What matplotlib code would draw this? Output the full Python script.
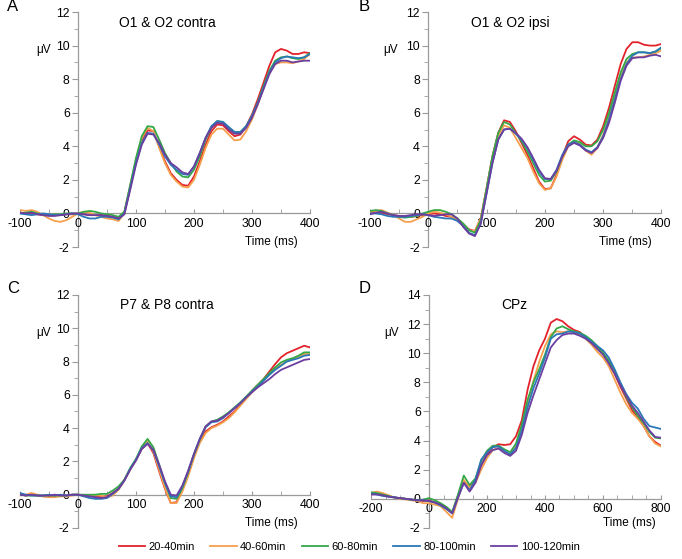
import numpy as np
import matplotlib
matplotlib.use("Agg")
import matplotlib.pyplot as plt
from matplotlib.ticker import MultipleLocator

plt.rcParams['font.family'] = ['Liberation Sans', 'DejaVu Sans']
plt.rcParams['axes.unicode_minus'] = False

# time axes
t_short = list(range(-100, 401, 10))
t_long = list(range(-200, 801, 20))

labels = ["20-40min", "40-60min", "60-80min", "80-100min", "100-120min"]
colors = ["#e2232b", "#f6a04d", "#35a846", "#2a78b8", "#6b3fa0"]

# ---- A: O1 & O2 contra
a_red = [0.05, 0.0, 0.0, -0.05, -0.1, -0.1, -0.1, -0.1, -0.05, -0.05, 0.0, -0.05, -0.1, -0.1, -0.1, -0.15, -0.2, -0.3,
         0.1, 1.6, 3.1, 4.3, 4.95, 4.9, 4.0, 3.1, 2.4, 2.0, 1.7, 1.65, 2.2, 3.1, 4.1, 4.9, 5.3, 5.25, 4.9, 4.6, 4.7,
         5.2, 5.9, 6.8, 7.8, 8.8, 9.6, 9.8, 9.7, 9.5, 9.5, 9.6, 9.55]
a_orange = [0.2, 0.15, 0.2, 0.1, -0.1, -0.3, -0.45, -0.5, -0.4, -0.2, 0.0, 0.1, 0.05, -0.1, -0.2, -0.3, -0.35, -0.45,
            0.0, 1.6, 3.2, 4.5, 5.1, 4.9, 3.9, 3.0, 2.3, 1.9, 1.6, 1.55, 2.0, 2.9, 3.9, 4.7, 5.05, 5.05, 4.7, 4.35, 4.4,
            4.9, 5.6, 6.5, 7.5, 8.4, 8.9, 9.0, 9.0, 8.95, 9.05, 9.2, 9.5]
a_green = [0.0, 0.05, 0.1, 0.0, -0.05, -0.1, -0.05, -0.05, 0.0, 0.0, 0.0, 0.1, 0.15, 0.1, 0.0, -0.05, -0.1, -0.2,
           0.1, 1.7, 3.3, 4.6, 5.2, 5.15, 4.4, 3.6, 3.0, 2.5, 2.2, 2.15, 2.6, 3.4, 4.4, 5.1, 5.5, 5.45, 5.1, 4.85, 4.85,
           5.2, 5.8, 6.6, 7.6, 8.5, 9.1, 9.3, 9.35, 9.25, 9.2, 9.3, 9.55]
a_blue = [0.0, -0.05, -0.1, -0.05, 0.0, -0.05, -0.1, -0.1, -0.05, 0.0, -0.05, -0.2, -0.3, -0.3, -0.2, -0.2, -0.25, -0.35,
          0.0, 1.5, 3.0, 4.2, 4.8, 4.75, 4.1, 3.4, 2.9, 2.6, 2.35, 2.3, 2.8, 3.6, 4.5, 5.2, 5.5, 5.45, 5.15, 4.85, 4.85,
          5.2, 5.8, 6.6, 7.5, 8.4, 9.0, 9.25, 9.35, 9.3, 9.25, 9.3, 9.5]
a_purple = [0.05, 0.0, 0.05, -0.05, -0.1, -0.15, -0.15, -0.1, -0.05, 0.0, 0.0, -0.05, -0.1, -0.1, -0.1, -0.15, -0.2, -0.3,
            -0.05, 1.4, 2.9, 4.1, 4.75, 4.7, 4.2, 3.5, 3.0, 2.75, 2.45, 2.35, 2.8, 3.6, 4.5, 5.1, 5.4, 5.35, 5.0, 4.75,
            4.75, 5.1, 5.7, 6.5, 7.4, 8.3, 8.9, 9.1, 9.1, 9.0, 9.05, 9.1, 9.1]

# ---- B: O1 & O2 ipsi
b_red = [0.0, 0.05, 0.05, -0.05, -0.1, -0.15, -0.2, -0.2, -0.15, -0.1, -0.05, 0.0, -0.05, -0.15, -0.2, -0.35, -0.65,
         -0.95, -1.05, -0.3, 1.5, 3.4, 4.8, 5.55, 5.45, 4.9, 4.2, 3.5, 2.7, 1.9, 1.45, 1.5, 2.3, 3.4, 4.3, 4.6, 4.4,
         4.1, 4.05, 4.4, 5.2, 6.3, 7.6, 8.9, 9.8, 10.2, 10.2, 10.05, 10.0, 10.0, 10.1]
b_orange = [0.1, 0.15, 0.2, 0.05, -0.1, -0.3, -0.5, -0.5, -0.35, -0.2, 0.0, 0.1, 0.05, -0.05, -0.2, -0.4, -0.7, -1.0,
            -1.05, -0.3, 1.5, 3.3, 4.6, 5.25, 5.1, 4.5, 3.9, 3.3, 2.5, 1.8, 1.4, 1.5, 2.2, 3.2, 4.0, 4.3, 4.15, 3.75,
            3.5, 3.9, 4.7, 5.8, 7.0, 8.2, 9.0, 9.3, 9.3, 9.35, 9.45, 9.55, 9.7]
b_green = [0.15, 0.2, 0.15, 0.0, -0.1, -0.2, -0.25, -0.2, -0.15, 0.0, 0.1, 0.2, 0.2, 0.1, -0.05, -0.3, -0.6, -1.0,
           -1.15, -0.4, 1.5, 3.4, 4.8, 5.45, 5.3, 4.8, 4.3, 3.7, 3.0, 2.3, 1.9, 1.95, 2.5, 3.4, 4.1, 4.35, 4.25, 4.0,
           4.0, 4.3, 5.0, 6.0, 7.2, 8.4, 9.2, 9.5, 9.6, 9.6, 9.55, 9.65, 9.85]
b_blue = [0.0, 0.0, -0.05, -0.15, -0.2, -0.2, -0.2, -0.15, -0.1, -0.05, -0.1, -0.2, -0.25, -0.3, -0.3, -0.45, -0.75,
          -1.15, -1.3, -0.6, 1.2, 3.0, 4.4, 5.0, 5.05, 4.75, 4.4, 3.9, 3.2, 2.5, 2.05, 2.05, 2.6, 3.5, 4.1, 4.25, 4.1,
          3.8, 3.65, 3.95, 4.6, 5.6, 6.8, 8.0, 8.9, 9.4, 9.6, 9.6, 9.55, 9.65, 9.9]
b_purple = [-0.05, 0.05, 0.1, 0.0, -0.1, -0.15, -0.15, -0.1, -0.05, -0.05, -0.1, -0.15, -0.1, -0.05, -0.05, -0.3, -0.8,
            -1.2, -1.35, -0.6, 1.2, 3.0, 4.4, 5.0, 5.05, 4.8, 4.45, 3.95, 3.3, 2.6, 2.1, 2.05, 2.55, 3.4, 4.0, 4.2,
            4.05, 3.75, 3.6, 3.9, 4.5, 5.4, 6.6, 7.9, 8.8, 9.25, 9.3, 9.3, 9.4, 9.45, 9.35]

# ---- C: P7 & P8 contra
c_red = [0.05, -0.05, 0.0, -0.05, -0.1, -0.1, -0.1, -0.05, -0.05, 0.0, 0.0, -0.05, -0.1, -0.1, -0.15, -0.1, 0.1, 0.35,
         0.9, 1.55, 2.1, 2.75, 3.1, 2.5, 1.4, 0.35, -0.5, -0.45, 0.3, 1.2, 2.3, 3.2, 3.8, 4.05, 4.2, 4.4, 4.7, 5.0,
         5.4, 5.8, 6.25, 6.6, 6.95, 7.4, 7.85, 8.25, 8.5, 8.65, 8.8, 8.95, 8.85]
c_orange = [-0.05, 0.0, 0.1, 0.0, -0.1, -0.15, -0.15, -0.1, -0.1, -0.05, 0.0, -0.05, -0.05, -0.05, -0.05, -0.15, -0.05,
            0.3, 0.85, 1.5, 2.1, 2.8, 3.2, 2.6, 1.5, 0.4, -0.5, -0.5, 0.2, 1.1, 2.2, 3.1, 3.7, 4.0, 4.15, 4.35, 4.6,
            4.95, 5.35, 5.75, 6.15, 6.5, 6.85, 7.25, 7.6, 7.8, 8.0, 8.15, 8.3, 8.45, 8.45]
c_green = [0.0, -0.05, -0.05, -0.05, -0.05, -0.05, -0.05, -0.05, -0.05, 0.0, 0.0, 0.0, 0.0, 0.0, 0.05, 0.05, 0.25, 0.5,
           0.9, 1.6, 2.15, 2.9, 3.35, 2.85, 1.8, 0.7, -0.2, -0.25, 0.4, 1.35, 2.4, 3.3, 4.1, 4.4, 4.5, 4.7, 4.95, 5.25,
           5.55, 5.9, 6.25, 6.6, 6.95, 7.3, 7.65, 7.95, 8.1, 8.2, 8.35, 8.55, 8.55]
c_blue = [0.1, 0.0, -0.05, -0.05, -0.05, 0.0, -0.05, 0.0, -0.05, 0.0, 0.0, -0.1, -0.2, -0.25, -0.25, -0.2, 0.05, 0.35,
          0.85, 1.55, 2.1, 2.8, 3.1, 2.65, 1.7, 0.7, -0.1, -0.15, 0.5, 1.4, 2.45, 3.35, 4.05, 4.35, 4.4, 4.6, 4.9, 5.2,
          5.5, 5.85, 6.2, 6.5, 6.85, 7.2, 7.5, 7.75, 8.0, 8.1, 8.2, 8.35, 8.4]
c_purple = [0.0, -0.05, 0.0, -0.05, -0.05, -0.05, 0.0, -0.05, -0.05, 0.0, 0.0, -0.05, -0.1, -0.15, -0.2, -0.15, 0.1,
            0.35, 0.85, 1.5, 2.05, 2.75, 3.05, 2.7, 1.8, 0.8, 0.0, -0.05, 0.55, 1.45, 2.45, 3.35, 4.1, 4.4, 4.45, 4.65,
            4.9, 5.2, 5.5, 5.85, 6.15, 6.45, 6.7, 6.95, 7.25, 7.5, 7.65, 7.8, 7.95, 8.1, 8.15]

# ---- D: CPz
d_red = [0.3, 0.35, 0.3, 0.2, 0.1, 0.05, 0.0, -0.05, -0.1, -0.15, -0.1, -0.25, -0.35, -0.6, -0.95, 0.2, 1.2, 0.8, 1.3,
         2.3, 3.1, 3.55, 3.75, 3.7, 3.75, 4.3, 5.4, 7.5, 9.1, 10.2, 11.0, 12.1, 12.35, 12.2, 11.85, 11.6, 11.45, 11.1,
         10.8, 10.4, 10.0, 9.4, 8.6, 7.7, 6.9, 6.1, 5.6, 5.0, 4.3, 3.9, 3.65]
d_orange = [0.4, 0.5, 0.4, 0.25, 0.1, 0.0, -0.05, -0.1, -0.15, -0.3, -0.3, -0.4, -0.5, -0.9, -1.3, 0.0, 1.3, 0.8, 1.1,
            2.0, 2.8, 3.35, 3.5, 3.2, 3.05, 3.6, 4.9, 6.5, 8.1, 9.4, 10.5, 11.3, 11.5, 11.45, 11.5, 11.45, 11.3, 11.0,
            10.6, 10.1, 9.7, 9.1, 8.2, 7.3, 6.5, 5.9, 5.5, 5.0, 4.3, 3.8, 3.6]
d_green = [0.45, 0.4, 0.3, 0.2, 0.1, 0.05, 0.0, -0.05, -0.1, -0.05, 0.05, -0.1, -0.3, -0.55, -0.9, 0.3, 1.6, 0.95, 1.4,
           2.6, 3.3, 3.65, 3.65, 3.4, 3.2, 3.8, 5.1, 6.8, 8.0, 8.9, 9.9, 11.1, 11.7, 11.85, 11.65, 11.5, 11.4, 11.2,
           10.9, 10.5, 10.0, 9.5, 8.8, 7.9, 7.0, 6.3, 5.7, 5.2, 4.6, 4.2, 4.15]
d_blue = [0.35, 0.3, 0.2, 0.15, 0.1, 0.05, 0.0, -0.05, -0.1, -0.1, -0.15, -0.25, -0.45, -0.7, -1.0, 0.1, 1.1, 0.6, 1.3,
          2.7, 3.2, 3.55, 3.6, 3.3, 3.05, 3.5, 4.7, 6.3, 7.6, 8.6, 9.7, 11.0, 11.3, 11.35, 11.5, 11.45, 11.35, 11.1,
          10.8, 10.5, 10.2, 9.7, 8.9, 8.0, 7.2, 6.6, 6.2, 5.5, 5.0, 4.9, 4.8]
d_purple = [0.3, 0.3, 0.25, 0.15, 0.1, 0.05, 0.0, -0.05, -0.1, -0.1, -0.15, -0.25, -0.4, -0.65, -1.0, 0.1, 1.1, 0.5,
            1.1, 2.3, 3.0, 3.35, 3.45, 3.15, 2.95, 3.3, 4.4, 5.9, 7.1, 8.2, 9.3, 10.4, 10.9, 11.25, 11.35, 11.35, 11.2,
            11.0, 10.7, 10.3, 9.9, 9.3, 8.6, 7.8, 7.1, 6.4, 5.9, 5.3, 4.7, 4.25, 4.2]

panels = [
    ("A", "O1 & O2 contra", t_short, [a_red, a_orange, a_green, a_blue, a_purple], (-100, 400), (-2, 12), 50),
    ("B", "O1 & O2 ipsi", t_short, [b_red, b_orange, b_green, b_blue, b_purple], (-100, 400), (-2, 12), 50),
    ("C", "P7 & P8 contra", t_short, [c_red, c_orange, c_green, c_blue, c_purple], (-100, 400), (-2, 12), 50),
    ("D", "CPz", t_long, [d_red, d_orange, d_green, d_blue, d_purple], (-200, 800), (-2, 14), 50),
]

# axes rectangles in figure fractions
rects = [
    [0.0293, 0.5581, 0.4252, 0.4204],
    [0.5425, 0.5581, 0.4274, 0.4204],
    [0.0293, 0.0555, 0.4252, 0.4168],
    [0.5440, 0.0555, 0.4252, 0.4168],
]
title_x = [0.507, 0.48, 0.505, 0.493]
time_x = [0.959, 0.966, 0.959, 0.983]
letter_pos = [(0.010, 0.988), (0.526, 0.988), (0.010, 0.484), (0.526, 0.484)]

axis_col = "#9a9a9a"

fig = plt.figure(figsize=(6.82, 5.59), dpi=100)

for i, (letter, title, t, series, xl, yl, xminor) in enumerate(panels):
    ax = fig.add_axes(rects[i])
    for s, c, lab in zip(series, colors, labels):
        ax.plot(t, s, color=c, lw=1.3, label=lab)
    ax.set_xlim(*xl)
    ax.set_ylim(*yl)
    for side in ["top", "right"]:
        ax.spines[side].set_visible(False)
    ax.spines["left"].set_position(("data", 0))
    ax.spines["bottom"].set_position(("data", 0))
    ax.spines["left"].set_color(axis_col)
    ax.spines["bottom"].set_color(axis_col)
    ax.spines["left"].set_linewidth(0.9)
    ax.spines["bottom"].set_linewidth(0.9)
    ax.spines["left"].set_zorder(0)
    ax.spines["bottom"].set_zorder(0)
    ax.xaxis.set_major_locator(MultipleLocator(200 if letter == "D" else 100))
    ax.xaxis.set_minor_locator(MultipleLocator(xminor))
    ax.yaxis.set_major_locator(MultipleLocator(2))
    ax.yaxis.set_minor_locator(MultipleLocator(1))
    ax.tick_params(axis="y", which="both", direction="out", color=axis_col, labelsize=8.8, pad=2)
    ax.tick_params(axis="y", which="major", length=4)
    ax.tick_params(axis="y", which="minor", length=3)
    ax.tick_params(axis="x", which="both", direction="in", color=axis_col, labelsize=8.8, pad=3)
    ax.tick_params(axis="x", which="major", length=3)
    ax.tick_params(axis="x", which="minor", length=3)
    ax.patch.set_visible(False)
    ax.text(title_x[i], 0.955, title, transform=ax.transAxes, ha="center", va="center", fontsize=10)
    ax.text(0.08 if i in (0, 2) else 0.07, 0.838, "μV", transform=ax.transAxes, ha="center", va="center", fontsize=8.5)
    ax.text(time_x[i], 0.02, "Time (ms)", transform=ax.transAxes, ha="right", va="center", fontsize=8.5)
    fig.text(letter_pos[i][0], letter_pos[i][1], letter, ha="left", va="center", fontsize=12)

handles, labs = fig.axes[0].get_legend_handles_labels()
fig.legend(handles, labs, loc="center", bbox_to_anchor=(0.512, 0.021), ncol=5, frameon=False,
           fontsize=8, handlelength=2.4, handletextpad=0.3, columnspacing=1.35)

fig.savefig("out.png", dpi=100)
